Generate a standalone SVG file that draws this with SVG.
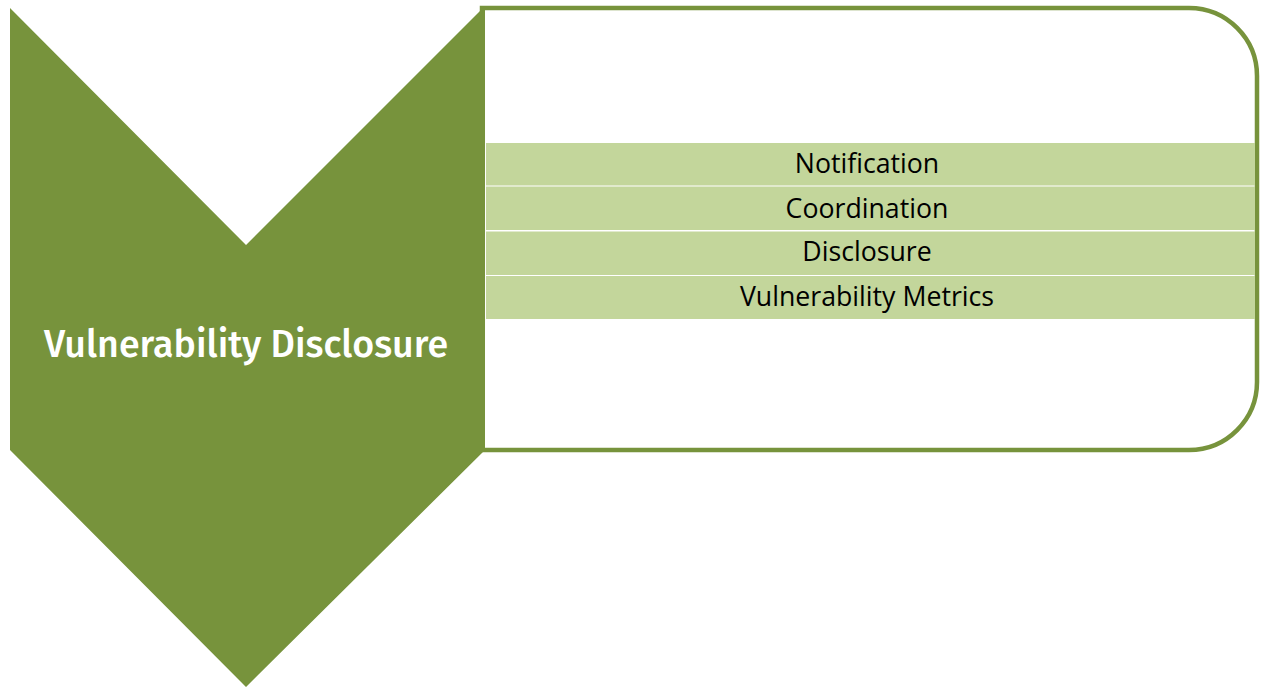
<svg xmlns="http://www.w3.org/2000/svg" width="1262" height="687" viewBox="0 0 1262 687">
<style>
.dark{fill:#77933C}
.band{fill:#C3D69B}
.lbl{font-family:"Open Sans","Noto Sans",sans-serif;font-size:26.7px;fill:#000;text-anchor:middle}
.title{font-family:"Fira Sans","Noto Sans","Open Sans",sans-serif;font-weight:500;font-size:37.6px;fill:#fff;text-anchor:middle}
</style>
<rect width="1262" height="687" fill="#fff"/>
<g id="panel">
<path d="M482,8 H1189 A68,68 0 0 1 1257,76 V382 A68,68 0 0 1 1189,450 H482 Z" fill="#fff" stroke="#77933C" stroke-width="4.5"/>
</g>
<g id="chevron">
<polygon class="dark" points="10,8 246,245 483,8 485,8 485,450 246,687 10,450"/>
<text class="title" x="246" y="357">Vulnerability Disclosure</text>
</g>
<g id="item-notification">
<rect class="band" x="486" y="143" width="769" height="42.5"/>
<text class="lbl" x="867" y="172.5">Notification</text>
</g>
<g id="item-coordination">
<rect class="band" x="486" y="186.5" width="769" height="43.5"/>
<text class="lbl" x="867" y="217.5">Coordination</text>
</g>
<g id="item-disclosure">
<rect class="band" x="486" y="231.5" width="769" height="43.5"/>
<text class="lbl" x="867" y="261">Disclosure</text>
</g>
<g id="item-metrics">
<rect class="band" x="486" y="276" width="769" height="43"/>
<text class="lbl" x="867" y="305.5">Vulnerability Metrics</text>
</g>
<g id="connectors"></g>
</svg>
